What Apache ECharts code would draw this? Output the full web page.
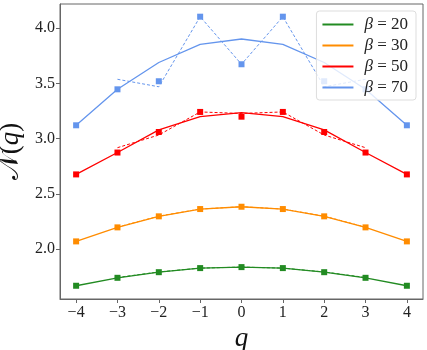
<!DOCTYPE html>
<html>
<head>
<meta charset="utf-8">
<script src="https://cdn.jsdelivr.net/npm/echarts@6/dist/echarts.min.js"></script>
<style>
  html, body { margin: 0; padding: 0; background: #fff; }
  #chart { width: 427px; height: 350px; }
</style>
</head>
<body>
<div id="chart"></div>
<script>
// q values
const qAll = [-4, -3, -2, -1, 0, 1, 2, 3, 4];
const qMid = [-3, -2, -1, 0, 1, 2, 3];
const xTicks = [-4, -3, -2, -1, 0, 1, 2, 3, 4];
const yTicks = [2.0, 2.5, 3.0, 3.5, 4.0];

const betas = [20, 30, 50, 70];
const colors = ['#228B22', '#FF8C00', '#FF0000', '#6495ED'];

// measured points (squares)
const pts20 = [1.667, 1.739, 1.790, 1.827, 1.836, 1.827, 1.790, 1.739, 1.667];
const pts30 = [2.069, 2.196, 2.296, 2.362, 2.383, 2.362, 2.296, 2.196, 2.069];
const pts50 = [2.676, 2.874, 3.060, 3.242, 3.199, 3.242, 3.060, 2.874, 2.676];
const pts70 = [3.121, 3.447, 3.520, 4.105, 3.674, 4.105, 3.520, 3.447, 3.121];

// solid curves
const fit20 = [1.667, 1.739, 1.790, 1.827, 1.836, 1.827, 1.790, 1.739, 1.667];
const fit30 = [2.069, 2.196, 2.296, 2.362, 2.383, 2.362, 2.296, 2.196, 2.069];
const fit50 = [2.676, 2.874, 3.080, 3.200, 3.235, 3.200, 3.080, 2.874, 2.676];
const fit70 = [3.121, 3.447, 3.690, 3.855, 3.903, 3.855, 3.690, 3.447, 3.121];

// dashed curves (q = -3..3)
const dash20 = [1.742, 1.792, 1.827, 1.836, 1.827, 1.792, 1.742];
const dash30 = [2.198, 2.298, 2.362, 2.383, 2.362, 2.298, 2.198];
const dash50 = [2.918, 3.033, 3.242, 3.228, 3.242, 3.033, 2.918];
const dash70 = [3.538, 3.470, 4.105, 3.674, 4.105, 3.470, 3.538];

const ptsAll = [pts20, pts30, pts50, pts70];
const fitAll = [fit20, fit30, fit50, fit70];
const dashAll = [dash20, dash30, dash50, dash70];

const pair = (xs, ys) => xs.map((x, i) => [x, ys[i]]);
const serif = '"Liberation Serif", "DejaVu Serif", serif';
const axisGray = '#666';

const series = [];
betas.forEach((b, k) => {
  series.push({
    name: 'β = ' + b,
    type: 'line',
    data: pair(qAll, fitAll[k]),
    showSymbol: false,
    symbol: 'none',
    lineStyle: { color: colors[k], width: 1.3 },
    itemStyle: { color: colors[k] },
    z: 2
  });
  series.push({
    name: 'dash' + b,
    type: 'line',
    data: pair(qMid, dashAll[k]),
    showSymbol: false,
    symbol: 'none',
    lineStyle: { color: colors[k], width: 1, type: [3, 2] },
    z: 2
  });
  series.push({
    name: 'pts' + b,
    type: 'scatter',
    data: pair(qAll, ptsAll[k]),
    symbol: 'rect',
    symbolSize: 6,
    itemStyle: { color: colors[k], opacity: 1 },
    z: 3
  });
});

const chart = echarts.init(document.getElementById('chart'), null, { renderer: 'canvas' });
chart.setOption({
  animation: false,
  backgroundColor: '#fff',
  grid: { left: 60, right: 4, top: 4, bottom: 51, containLabel: false, outerBoundsMode: 'none' },
  legend: {
    data: betas.map(b => ({ name: 'β = ' + b })),
    orient: 'vertical',
    right: 11,
    top: 11,
    itemWidth: 31,
    itemHeight: 2,
    itemGap: 4,
    icon: 'rect',
    padding: [5, 8, 4, 6],
    backgroundColor: 'rgba(255,255,255,0.8)',
    borderColor: '#ddd',
    borderWidth: 1,
    borderRadius: 3,
    z: 10,
    textStyle: {
      fontFamily: serif,
      fontSize: 17,
      color: '#222',
      padding: [0, 0, 0, 6],
      rich: {
        b: { fontFamily: serif, fontStyle: 'italic', fontSize: 17, color: '#222' },
        t: { fontFamily: serif, fontSize: 17, color: '#222' }
      }
    },
    formatter: name => '{b|β} {t|' + name.slice(2) + '}'
  },
  xAxis: {
    type: 'value',
    min: -4.39,
    max: 4.39,
    name: 'q',
    nameLocation: 'middle',
    nameGap: 22,
    nameTextStyle: { fontFamily: serif, fontStyle: 'italic', fontSize: 27, color: '#111' },
    axisLine: { show: true, onZero: false, lineStyle: { color: axisGray, width: 1 } },
    axisTick: { show: true, length: 4, customValues: xTicks, lineStyle: { color: axisGray } },
    axisLabel: {
      customValues: xTicks,
      fontFamily: serif,
      fontSize: 16,
      color: '#222',
      margin: 6,
      formatter: v => (v < 0 ? '\u2212' + Math.abs(v) : String(v))
    },
    splitLine: { show: false }
  },
  yAxis: {
    type: 'value',
    min: 1.547,
    max: 4.22,
    name: '{n|𝒩}{p|(}{q|q}{p|)}',
    nameLocation: 'middle',
    nameGap: 28,
    nameRotate: 90,
    nameTextStyle: {
      fontFamily: serif, fontSize: 27, color: '#111',
      rich: {
        n: { fontFamily: serif, fontSize: 27, color: '#111' },
        p: { fontFamily: serif, fontSize: 27, color: '#111' },
        q: { fontFamily: serif, fontSize: 27, fontStyle: 'italic', color: '#111' }
      }
    },
    axisLine: { show: true, onZero: false, lineStyle: { color: axisGray, width: 1 } },
    axisTick: { show: true, length: 4, customValues: yTicks, lineStyle: { color: axisGray } },
    axisLabel: {
      customValues: yTicks,
      fontFamily: serif,
      fontSize: 16,
      color: '#222',
      margin: 5,
      formatter: v => v.toFixed(1)
    },
    splitLine: { show: false }
  },
  series: series
});
// frame on top/right like matplotlib spines
chart.setOption({
  graphic: [{
    type: 'rect',
    shape: { x: 60, y: 4, width: 363, height: 295 },
    style: { fill: 'none', stroke: axisGray, lineWidth: 1 },
    silent: true,
    z: 1
  }]
});
</script>
</body>
</html>
